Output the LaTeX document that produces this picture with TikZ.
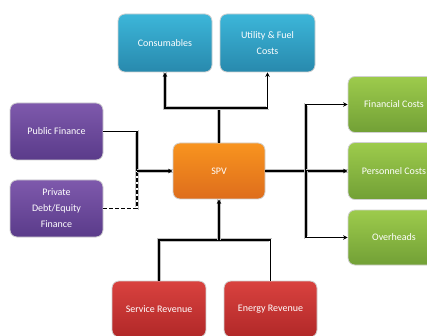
\documentclass[tikz,border=0pt]{standalone}
\usepackage{fontspec}
\setmainfont{Carlito}
\usetikzlibrary{arrows.meta}

\definecolor{cyanTop}{HTML}{3CB6D9}
\definecolor{cyanBot}{HTML}{2889AD}
\definecolor{purpTop}{HTML}{7E59AC}
\definecolor{purpBot}{HTML}{5A3B8A}
\definecolor{orgTop}{HTML}{F8941F}
\definecolor{orgBot}{HTML}{DE6D1C}
\definecolor{grnTop}{HTML}{9DCB4C}
\definecolor{grnBot}{HTML}{72A036}
\definecolor{redTop}{HTML}{D9423F}
\definecolor{redBot}{HTML}{B12828}

\tikzset{
  box/.style={rectangle, rounded corners=7pt, draw=black!18, line width=0.8pt,
    text=white, align=center, inner sep=2pt,
    font=\fontsize{10}{16}\selectfont},
  cyanbox/.style={box, top color=cyanTop, bottom color=cyanBot},
  purpbox/.style={box, top color=purpTop, bottom color=purpBot},
  orgbox/.style={box, top color=orgTop, bottom color=orgBot},
  grnbox/.style={box, top color=grnTop, bottom color=grnBot},
  redbox/.style={box, top color=redTop, bottom color=redBot},
  wire/.style={line width=1.1pt, draw=black,
    preaction={draw=black!25, line width=3.8pt, -},
    preaction={draw=white, line width=2.6pt, -}},
  tip/.style={-{Stealth[length=4.5pt,width=4.5pt]}},
}

\begin{document}
\begin{tikzpicture}[x=1pt,y=-1pt]
\useasboundingbox[fill=white] (0,0) rectangle (427,336);

% cost boxes above the SPV
\node[cyanbox, minimum width=94pt, minimum height=58pt] (cons) at (165,43) {Consumables};
\node[cyanbox, minimum width=95pt, minimum height=58pt] (util) at (267.5,43) {Utility \& Fuel\\Costs};

% finance sources
\node[purpbox, minimum width=93pt, minimum height=57pt] (pub) at (56.5,131.5) {Public Finance};
\node[purpbox, minimum width=93pt, minimum height=57pt] (priv) at (56.5,208.5) {Private\\Debt/Equity\\Finance};

% special purpose vehicle
\node[orgbox, minimum width=92pt, minimum height=56pt] (spv) at (219,171) {SPV};

% operating costs
\node[grnbox, minimum width=92pt, minimum height=56pt] (fin) at (394,104.5) {Financial Costs};
\node[grnbox, minimum width=92pt, minimum height=57pt] (pers) at (394,171) {Personnel Costs};
\node[grnbox, minimum width=92pt, minimum height=55pt] (over) at (394,237.5) {Overheads};

% revenues
\node[redbox, minimum width=94pt, minimum height=56pt] (serv) at (159,309) {Service Revenue};
\node[redbox, minimum width=93pt, minimum height=56pt] (ener) at (270.5,309) {Energy Revenue};

% junctions
\coordinate (jt) at (219,108);
\coordinate (jl) at (137,171);
\coordinate (jr) at (306,171);
\coordinate (jb) at (219,240);

% SPV to costs above
\draw[wire] (spv.north) -- (jt);
\draw[wire, tip] (jt) -| (cons.south);
\draw[wire, tip] (jt) -| (util.south);

% finance into SPV
\draw[wire] (pub.east) -| (jl);
\draw[wire, dashed, dash pattern=on 4pt off 2pt] (priv.east) -| (jl);
\draw[wire, tip] (jl) -- (spv.west);

% SPV to operating costs
\draw[wire] (spv.east) -- (jr);
\draw[wire, tip] (jr) |- (fin.west);
\draw[wire, tip] (jr) -- (pers.west);
\draw[wire, tip] (jr) |- (over.west);

% revenues into SPV
\draw[wire] (serv.north) |- (jb);
\draw[wire] (ener.north) |- (jb);
\draw[wire, tip] (jb) -- (spv.south);
\end{tikzpicture}
\end{document}
